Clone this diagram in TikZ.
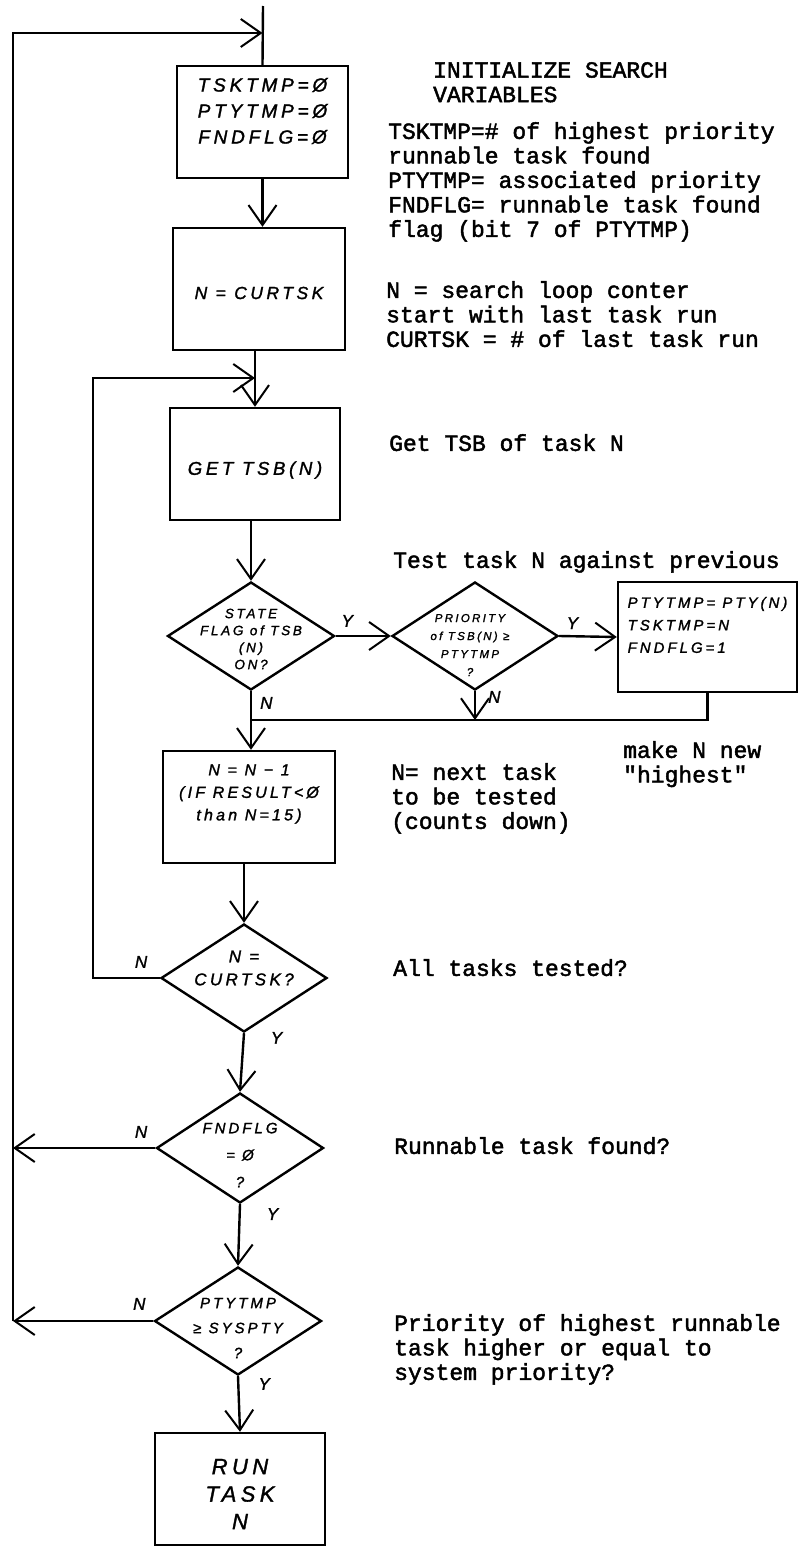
\documentclass[tikz,border=0pt]{standalone}
\usepackage{fontspec}
\usetikzlibrary{shapes.geometric,arrows.meta}

\newfontfamily\handfont{Liberation Sans}[LetterSpace=20, FakeBold=1.5]
\newfontfamily\typefont{Liberation Mono}[FakeBold=2]
\newcommand\handsz[2]{\handfont\itshape\fontsize{#1}{#2}\selectfont}

\begin{document}
\begin{tikzpicture}[
  x=1pt, y=-1pt,
  line width=2.4pt,
  proc/.style={rectangle, draw, inner sep=0pt,
               minimum width=171pt, minimum height=112pt},
  decision/.style={diamond, draw, inner sep=0pt,
                   minimum width=167pt, minimum height=108pt},
  boxtext/.style={align=center, inner sep=0pt},
  note/.style={anchor=north west, align=left, inner sep=0pt,
               font=\typefont\fontsize{23}{24.5}\selectfont},
  yn/.style={inner sep=0pt, font=\handsz{17}{17}},
  flow/.style={-{Straight Barb[length=20pt, width=28pt, line width=2pt]}}
]
  \useasboundingbox (0,0) rectangle (799,1547);

  % rail corners and the merge point
  \coordinate (entry) at (263,6);
  \coordinate (top)   at (13,33);
  \coordinate (inner) at (93,378);
  \coordinate (join)  at (251,720);

  % main column
  \node[proc, label={[boxtext, font=\handsz{19}{26}, yshift=11pt]center:TSKTMP=Ø\\PTYTMP=Ø\\FNDFLG=Ø}]
    (init) at (262.5,122) {};
  \node[proc, minimum width=172pt, minimum height=122pt,
        label={[boxtext, font=\handsz{17.5}{20}, yshift=-4pt]center:N = CURTSK}]
    (cur) at (259,289) {};
  \node[proc, minimum width=170pt,
        label={[boxtext, font=\handsz{18.5}{20}, yshift=-6pt]center:GET TSB(N)}]
    (gettsb) at (255,464) {};
  \node[decision, label={[boxtext, font=\handsz{13.5}{17}, yshift=-3pt]center:STATE\\FLAG of TSB\\(N)\\ON?}]
    (d1) at (251,636) {};
  \node[decision, minimum width=166pt,
        label={[boxtext, font=\handsz{11.5}{18}, yshift=-9pt, xshift=-5pt]center:PRIORITY\\of TSB(N) ≥\\PTYTMP\\?}]
    (d2) at (475,636) {};
  \node[proc, minimum width=179pt, minimum height=110pt,
        label={[boxtext, align=left, font=\handsz{15}{22.5}, yshift=12pt]center:PTYTMP= PTY(N)\\TSKTMP=N\\FNDFLG=1}]
    (setnew) at (707.5,637) {};
  \node[proc, minimum width=172pt,
        label={[boxtext, font=\handsz{16}{22.5}, yshift=13pt]center:N = N − 1\\(IF RESULT<Ø\\than N=15)}]
    (decr) at (249,807) {};
  \node[decision, minimum width=166pt,
        label={[boxtext, font=\handsz{17}{23}, yshift=10pt]center:N =\\CURTSK?}]
    (d3) at (244,978) {};
  \node[decision, minimum height=110pt,
        label={[boxtext, font=\handsz{15}{27}, yshift=-7pt]center:FNDFLG\\= Ø\\?}]
    (d4) at (240,1148) {};
  \node[decision, label={[boxtext, font=\handsz{15}{25}, yshift=-7pt]center:PTYTMP\\≥ SYSPTY\\?}]
    (d5) at (238,1321) {};
  \node[proc, minimum width=170pt,
        label={[boxtext, font=\handsz{22}{27.5}, yshift=-5pt]center:RUN\\TASK\\N}]
    (run) at (240,1489) {};

  % typed remarks
  \node[note] (initnote)  at (432,61)   {INITIALIZE SEARCH\\VARIABLES};
  \node[note] (varnote)   at (387,121)  {TSKTMP=\# of highest priority\\runnable task found\\PTYTMP= associated priority\\FNDFLG= runnable task found\\flag (bit 7 of PTYTMP)};
  \node[note] (curnote)   at (385,280)  {N = search loop conter\\start with last task run\\CURTSK = \# of last task run};
  \node[note] (getnote)   at (388,433)  {Get TSB of task N};
  \node[note] (testnote)  at (392,550)  {Test task N against previous};
  \node[note] (newnote)   at (622,740)  {make N new\\"highest"};
  \node[note] (nextnote)  at (390,762)  {N= next task\\to be tested\\(counts down)};
  \node[note] (allnote)   at (392,958)  {All tasks tested?};
  \node[note] (foundnote) at (393,1136) {Runnable task found?};
  \node[note] (ptynote)   at (393,1313) {Priority of highest runnable\\task higher or equal to\\system priority?};

  % connectors
  \draw (entry) -- (init.north);
  \draw[flow] (init.south) -- (init.south |- cur.north);
  \draw[flow] (cur.south -| gettsb.north) -- (gettsb.north);
  \draw[flow] (gettsb.south -| d1.north) -- (d1.north);
  \draw[flow] (d1.east) -- node[yn, above=8pt, pos=0.21] {Y} (d2.west);
  \draw[flow] (d2.east) -- node[yn, above=6pt, pos=0.23] {Y} (setnew.west);
  \draw[flow] (d1.south) -- node[yn, right=8pt, pos=0.2] {N} (d1.south |- decr.north);
  \draw[flow] (d2.south) -- node[yn, right=12pt, pos=0.2] {N} (d2.south |- join);
  \draw (setnew.south) |- (join);
  \draw[flow] (decr.south -| d3.north) -- (d3.north);
  \draw[flow] (d3.west) -- node[yn, above=9pt, pos=0.28] {N} (d3.west -| inner)
    -- (inner) -- (gettsb.north |- inner);
  \draw[flow] (d3.south) -- node[yn, right=26pt, pos=0.08] {Y} (d4.north);
  \draw[flow] (d4.west) -- node[yn, above=9pt, pos=0.1] {N} (d4.west -| top);
  \draw[flow] (d4.south) -- node[yn, right=26pt, pos=0.16] {Y} (d5.north);
  \draw[flow] (d5.west) -- node[yn, above=10pt, pos=0.1] {N} (d5.west -| top);
  \draw[flow] (d5.south) -- node[yn, right=19pt, pos=0.14] {Y} (run.north);
  \draw[flow] (d5.west -| top) -- (top) -- (init.north |- top);
\end{tikzpicture}
\end{document}
